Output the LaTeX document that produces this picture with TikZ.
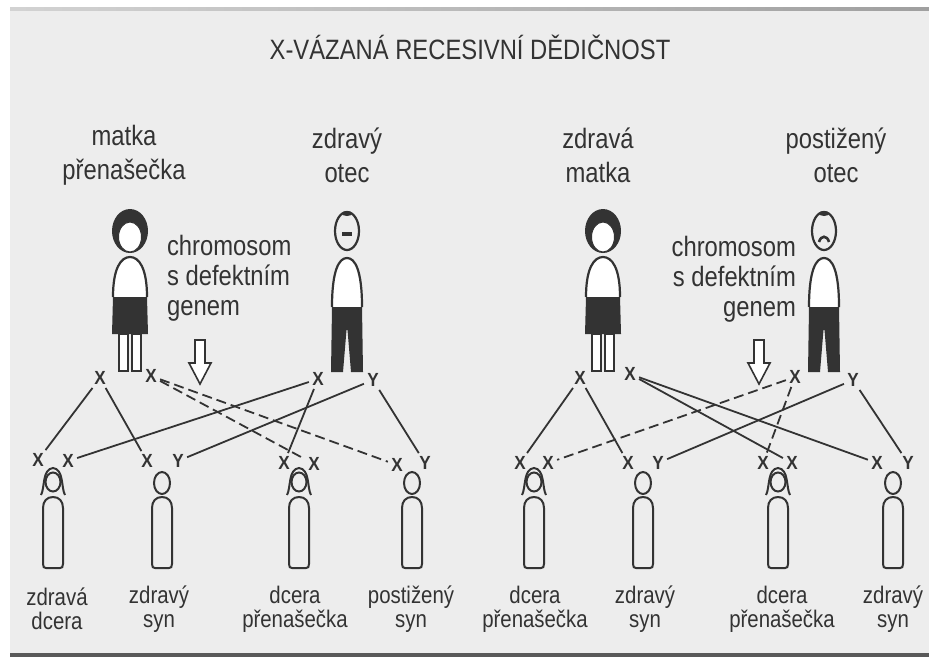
\documentclass[tikz,border=0pt]{standalone}
\usepackage{fontspec}
\usepackage{tikz}
\usetikzlibrary{positioning}
\newfontfamily\labelfont[FakeStretch=0.85]{Liberation Sans}
\newfontfamily\chromfont[FakeStretch=0.9]{Liberation Sans Bold}
\definecolor{paper}{gray}{0.93}
\definecolor{ink}{gray}{0.2}

\tikzset{
  headline/.style={font=\labelfont\fontsize{14}{16}\selectfont, text=ink},
  parent label/.style={align=center, font=\labelfont\fontsize{14}{17}\selectfont, text=ink},
  child label/.style={align=center, font=\labelfont\fontsize{12}{12}\selectfont, text=ink},
  remark/.style={font=\labelfont\fontsize{14}{15}\selectfont, text=ink},
  chrom/.style={font=\chromfont\fontsize{9.5}{9.5}\selectfont, text=ink, inner sep=1.5pt},
  gene/.style={line width=0.9pt, draw=ink},
  defect/.style={gene, dash pattern=on 5pt off 2.5pt},
  outline/.style={line width=1.1pt, draw=ink},
  % grown-ups
  mother/.pic={
    \fill[ink] (0,231) ellipse (18 and 22);
    \filldraw[fill=white, draw=ink, line width=0.5pt] (0,237) ellipse (11.5 and 15);
    \filldraw[outline, fill=white] (-17,297) .. controls (-17,268) and (-9,257) .. (0,257) .. controls (9,257) and (17,268) .. (17,297);
    \fill[ink] (-17,297) -- (17,297) -- (18,334) -- (-18,334) -- cycle;
    \filldraw[outline, fill=white] (-11,334) rectangle (-2,371);
    \filldraw[outline, fill=white] (2,334) rectangle (11,371);
  },
  father/.pic={
    \draw[outline] (0,231) ellipse (12 and 19);
    \fill[ink] (0,213.5) ellipse (5 and 2.5);
    \filldraw[outline, fill=white] (-15,307) .. controls (-15,270) and (-8,258) .. (0,258) .. controls (8,258) and (15,270) .. (15,307);
    \fill[ink] (-15,307) -- (15,307) -- (16,372) -- (4,372) -- (0.5,330) -- (-0.5,330) -- (-4,372) -- (-16,372) -- cycle;
  },
  % children
  child body/.pic={
    \draw[outline, line width=1pt] (-10,564) -- (-10,508) .. controls (-10,501) and (-6,497) .. (0,497) .. controls (6,497) and (10,501) .. (10,508) -- (10,564) .. controls (10,567) and (9,568) .. (7,568) -- (-7,568) .. controls (-9,568) and (-10,567) .. (-10,564) -- cycle;
  },
  daughter/.pic={
    \pic {child body};
    \draw[outline, line width=1pt] (0,482) ellipse (7.5 and 9.5);
    \draw[outline, line width=1pt] (-12,495) .. controls (-8,488) and (-11,469) .. (0,468) .. controls (11,469) and (8,488) .. (12,495);
  },
  son/.pic={
    \pic {child body};
    \draw[outline, line width=1pt] (0,483) ellipse (8 and 11);
  },
  hollow arrow/.pic={
    \filldraw[outline, line width=0.8pt, fill=white] (-5,340) -- (5,340) -- (5,363) -- (11,363) -- (0,384) -- (-11,363) -- (-5,363) -- cycle;
  },
}

\begin{document}
\begin{tikzpicture}[x=0.5pt, y=-0.5pt]
  \useasboundingbox (0,0) rectangle (929,660);

  % page
  \fill[white] (0,0) rectangle (929,660);
  \fill[paper] (10,9) rectangle (929,655);
  \shade[left color=gray!35, right color=gray!75] (10,7) rectangle (929,10);
  \fill[gray!70!black] (10,653) rectangle (929,657);

  \node[headline] (title) at (470,47) {X-VÁZANÁ RECESIVNÍ DĚDIČNOST};

  % left family: carrier mother x healthy father
  \pic at (130,0) {mother};
  \pic at (347,0) {father};
  \draw[ink, line width=1.8pt] (342,234) -- (352,234);
  \node[parent label] (mother1) at (124,155) {matka\\přenašečka};
  \node[parent label] (father1) at (347,155) {zdravý\\otec};
  \node[remark, align=left, anchor=west] (defect1) at (160,278) {chromosom\\s defektním\\genem};
  \pic at (200,0) {hollow arrow};

  \node[chrom] (m1a) at (100,378) {X};
  \node[chrom] (m1b) at (151,376) {X};
  \node[chrom] (f1x) at (318,379) {X};
  \node[chrom] (f1y) at (373,380) {Y};

  \pic at (53,0) {daughter};
  \pic at (162,0) {son};
  \pic at (299,0) {daughter};
  \pic at (412,0) {son};
  \node[chrom] (d1a) at (38,460) {X};
  \node[chrom] (d1b) at (68,461) {X};
  \node[chrom] (s1x) at (147,461) {X};
  \node[chrom] (s1y) at (178,461) {Y};
  \node[chrom] (d2a) at (284,463) {X};
  \node[chrom] (d2b) at (314,464) {X};
  \node[chrom] (s2x) at (397,465) {X};
  \node[chrom] (s2y) at (425,463) {Y};

  \node[child label] (kid1) at (57,609) {zdravá\\dcera};
  \node[child label] (kid2) at (159,609) {zdravý\\syn};
  \node[child label] (kid3) at (295,609) {dcera\\přenašečka};
  \node[child label] (kid4) at (411,609) {postižený\\syn};

  \draw[gene] (m1a) -- (d1a);
  \draw[gene] (m1a) -- (s1x);
  \draw[defect] (m1b) -- (d2b);
  \draw[defect] (m1b) -- (s2x);
  \draw[gene] (f1x) -- (d1b);
  \draw[gene] (f1x) -- (d2a);
  \draw[gene] (f1y) -- (s1y);
  \draw[gene] (f1y) -- (s2y);

  % right family: healthy mother x affected father
  \pic at (603,0) {mother};
  \pic at (824,0) {father};
  \draw[ink, line width=1.3pt] (819,242) .. controls (821,235) and (827,235) .. (829,242);
  \node[parent label] (mother2) at (598,155) {zdravá\\matka};
  \node[parent label] (father2) at (836,155) {postižený\\otec};
  \node[remark, align=right, anchor=east] (defect2) at (803,279) {chromosom\\s defektním\\genem};
  \pic at (759,0) {hollow arrow};

  \node[chrom] (m2a) at (580,378) {X};
  \node[chrom] (m2b) at (630,374) {X};
  \node[chrom] (f2x) at (795,377) {X};
  \node[chrom] (f2y) at (853,380) {Y};

  \pic at (534,0) {daughter};
  \pic at (643,0) {son};
  \pic at (778,0) {daughter};
  \pic at (893,0) {son};
  \node[chrom] (d3a) at (520,463) {X};
  \node[chrom] (d3b) at (548,463) {X};
  \node[chrom] (s3x) at (628,463) {X};
  \node[chrom] (s3y) at (658,463) {Y};
  \node[chrom] (d4a) at (763,463) {X};
  \node[chrom] (d4b) at (792,463) {X};
  \node[chrom] (s4x) at (877,463) {X};
  \node[chrom] (s4y) at (908,463) {Y};

  \node[child label] (kid5) at (535,609) {dcera\\přenašečka};
  \node[child label] (kid6) at (645,609) {zdravý\\syn};
  \node[child label] (kid7) at (782,609) {dcera\\přenašečka};
  \node[child label] (kid8) at (893,609) {zdravý\\syn};

  \draw[gene] (m2a) -- (d3a);
  \draw[gene] (m2a) -- (s3x);
  \draw[gene] (m2b) -- (d4b);
  \draw[gene] (m2b) -- (s4x);
  \draw[defect] (f2x) -- (d3b);
  \draw[defect] (f2x) -- (d4a);
  \draw[gene] (f2y) -- (s3y);
  \draw[gene] (f2y) -- (s4y);
\end{tikzpicture}
\end{document}
